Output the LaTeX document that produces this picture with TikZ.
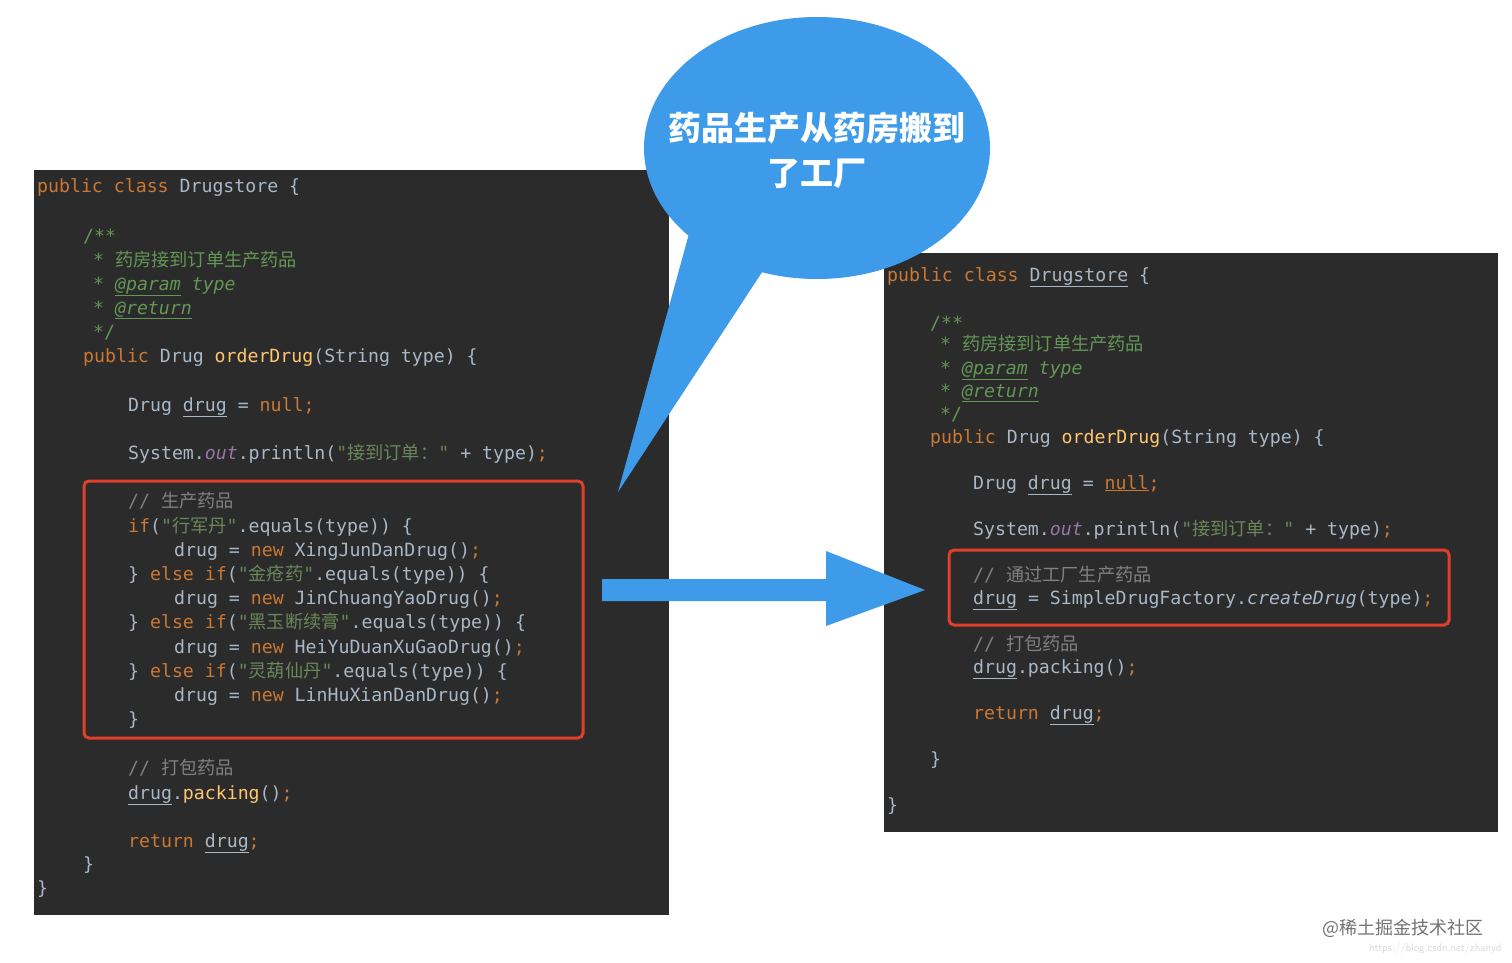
\documentclass[tikz,border=0pt]{standalone}
\usepackage{fontspec}
\usetikzlibrary{shapes.geometric}
\setmonofont{DejaVu Sans Mono}
\newfontfamily\cjk{Noto Sans CJK SC}
\definecolor{bgc}{HTML}{2B2B2B}
\definecolor{kwc}{HTML}{CC7832}
\definecolor{txc}{HTML}{A9B7C6}
\definecolor{stc}{HTML}{6A8759}
\definecolor{cmc}{HTML}{808080}
\definecolor{jdc}{HTML}{629755}
\definecolor{mtc}{HTML}{FFC66D}
\definecolor{ptc}{HTML}{9876AA}
\definecolor{redc}{HTML}{E0402A}
\definecolor{bluec}{HTML}{3D9BEA}
\newcommand\K[1]{\textcolor{kwc}{#1}}
\newcommand\St[1]{\textcolor{stc}{#1}}
\newcommand\Cm[1]{\textcolor{cmc}{#1}}
\newcommand\Jd[1]{\textcolor{jdc}{#1}}
\newcommand\Mt[1]{\textcolor{mtc}{#1}}
\newcommand\Pt[1]{\textcolor{ptc}{\itshape #1}}
\newcommand\C[1]{{\cjk #1}}
\tikzset{code/.style={anchor=base west,inner sep=0pt,text=txc,font=\ttfamily\fontsize{18.2}{24}\selectfont},
redbox/.style={draw=redc,line width=3pt,rounded corners=5pt}}
\begin{document}
\begin{tikzpicture}[x=1pt,y=-1pt]
\useasboundingbox (0,0) rectangle (1512,963);
\fill[white] (0,0) rectangle (1512,963);
% left panel
\fill[bgc] (34,170) rectangle (669,915);
\node[code] (l1) at (37,192) {\K{public} \K{class} Drugstore \{};
\node[code] (l2) at (83,242) {\Jd{/**}};
\node[code] (l3) at (93,266) {\Jd{* \C{药房接到订单生产药品}}};
\node[code] (l4) at (93,290) {\Jd{* \underline{\textit{@param}} \textit{type}}};
\node[code] (l5) at (93,314) {\Jd{* \underline{\textit{@return}}}};
\node[code] (l6) at (93,338) {\Jd{*/}};
\node[code] (l7) at (83,362) {\K{public} Drug \Mt{orderDrug}(String type) \{};
\node[code] (l8) at (128,411) {Drug \underline{drug} = \K{null;}};
\node[code] (l9) at (128,459) {System.\Pt{out}.println(\St{"\C{接到订单：}"} + type)\K{;}};
\node[code] (l10) at (128,507) {\Cm{// \C{生产药品}}};
\node[code] (l11) at (128,532) {\K{if}(\St{"\C{行军丹}"}.equals(type)) \{};
\node[code] (l12) at (174,556) {drug = \K{new} XingJunDanDrug()\K{;}};
\node[code] (l13) at (128,580) {\} \K{else if}(\St{"\C{金疮药}"}.equals(type)) \{};
\node[code] (l14) at (174,604) {drug = \K{new} JinChuangYaoDrug()\K{;}};
\node[code] (l15) at (128,628) {\} \K{else if}(\St{"\C{黑玉断续膏}"}.equals(type)) \{};
\node[code] (l16) at (174,653) {drug = \K{new} HeiYuDuanXuGaoDrug()\K{;}};
\node[code] (l17) at (128,677) {\} \K{else if}(\St{"\C{灵葫仙丹}"}.equals(type)) \{};
\node[code] (l18) at (174,701) {drug = \K{new} LinHuXianDanDrug()\K{;}};
\node[code] (l19) at (128,725) {\}};
\node[code] (l20) at (128,774) {\Cm{// \C{打包药品}}};
\node[code] (l21) at (128,799) {\underline{drug}.\Mt{packing}()\K{;}};
\node[code] (l22) at (128,847) {\K{return} \underline{drug}\K{;}};
\node[code] (l23) at (83,870) {\}};
\node[code] (l24) at (37,894) {\}};
\draw[redbox] (84,481) rectangle (583,738);
% right panel
\fill[bgc] (884,253) rectangle (1498,832);
\node[code] (r1) at (887,281) {\K{public} \K{class} \underline{Drugstore} \{};
\node[code] (r2) at (930,329) {\Jd{/**}};
\node[code] (r3) at (940,350) {\Jd{* \C{药房接到订单生产药品}}};
\node[code] (r4) at (940,374) {\Jd{* \underline{\textit{@param}} \textit{type}}};
\node[code] (r5) at (940,397) {\Jd{* \underline{\textit{@return}}}};
\node[code] (r6) at (940,420) {\Jd{*/}};
\node[code] (r7) at (930,443) {\K{public} Drug \Mt{orderDrug}(String type) \{};
\node[code] (r8) at (973,489) {Drug \underline{drug} = \K{\underline{null};}};
\node[code] (r9) at (973,535) {System.\Pt{out}.println(\St{"\C{接到订单：}"} + type)\K{;}};
\node[code] (r10) at (973,581) {\Cm{// \C{通过工厂生产药品}}};
\node[code] (r11) at (973,604) {\underline{drug} = SimpleDrugFactory.\textit{createDrug}(type)\K{;}};
\node[code] (r12) at (973,650) {\Cm{// \C{打包药品}}};
\node[code] (r13) at (973,673) {\underline{drug}.packing()\K{;}};
\node[code] (r14) at (973,719) {\K{return} \underline{drug}\K{;}};
\node[code] (r15) at (930,765) {\}};
\node[code] (r16) at (887,811) {\}};
\draw[redbox] (949,550) rectangle (1449,625);
% arrow
\fill[bluec] (602,579) -- (826,579) -- (826,551) -- (925,590) -- (826,626) -- (826,601) -- (602,601) -- cycle;
% bubble
\fill[bluec] (690,230) -- (618,492) -- (770,260) -- cycle;
\node[ellipse,fill=bluec,minimum width=346,minimum height=262,inner sep=0pt] (bub) at (817,148) {};
\node[font=\cjk\bfseries\fontsize{33}{45}\selectfont,text=white,align=center] (bt) at (817,150) {药品生产从药房搬到\\了工厂};
\node[anchor=east,text=black!55,font=\cjk\fontsize{18}{20}\selectfont] (wm) at (1487,928) {@稀土掘金技术社区};
\node[anchor=east,text=black!15,font=\sffamily\fontsize{11}{12}\selectfont] (url) at (1505,949) {https://blog.csdn.net/zhanyd};
\end{tikzpicture}
\end{document}
